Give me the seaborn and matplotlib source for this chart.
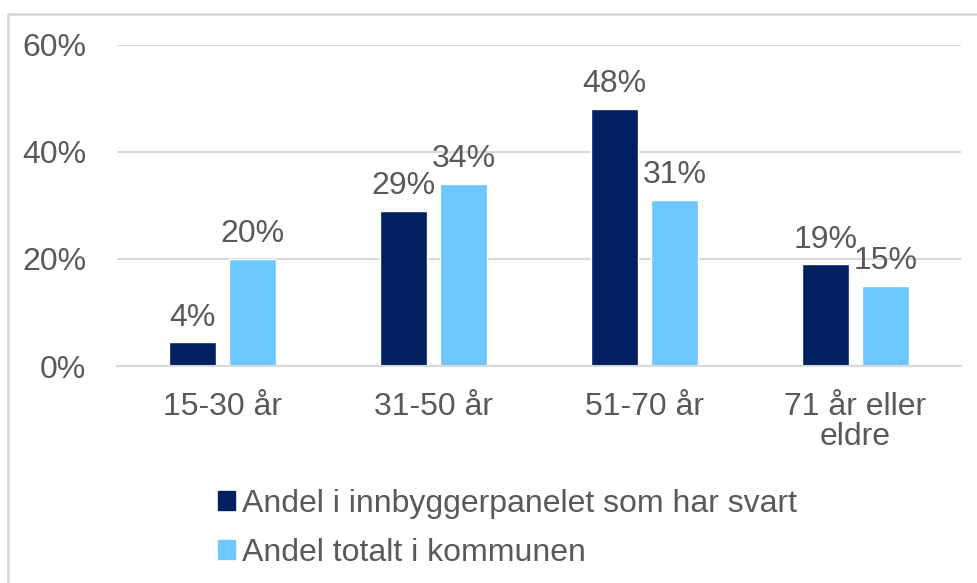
import matplotlib.pyplot as plt
import matplotlib.patches as mpatches
import pandas as pd
import seaborn as sns

# Data
categories = ["15-30 år", "31-50 år", "51-70 år", "71 år eller\neldre"]
series_names = ["Andel i innbyggerpanelet som har svart", "Andel totalt i kommunen"]
panel_share = [4.4, 29, 48, 19]
municipality_share = [20, 34, 31, 15]
y_ticks = [0, 20, 40, 60]

colors = ["#002060", "#6DC8FF"]
text_color = "#595959"
grid_color = "#D9D9D9"

df = pd.DataFrame({
    "Alder": categories * 2,
    "Andel": panel_share + municipality_share,
    "Serie": [series_names[0]] * 4 + [series_names[1]] * 4,
})

sns.set_style("white")
plt.rcParams["font.family"] = ["Liberation Sans", "DejaVu Sans"]
fs = 23

fig = plt.figure(figsize=(9.78, 5.83), dpi=100)
ax = fig.add_axes([117 / 978, 1 - 366 / 583, (961 - 117) / 978, (366 - 45) / 583])

sns.barplot(data=df, x="Alder", y="Andel", hue="Serie", palette=colors,
            width=0.569, gap=0.217, saturation=1, ax=ax, legend=False)

for container in ax.containers:
    ax.bar_label(container, labels=[f"{v:.0f}%" for v in container.datavalues],
                 padding=7, fontsize=fs, color=text_color)

ax.set_xlim(-0.5, 3.5)
ax.set_ylim(0, 60)
ax.set_yticks(y_ticks)
ax.set_yticklabels([f"{t}%" for t in y_ticks])
ax.yaxis.grid(True, color=grid_color, linewidth=1.5)
ax.set_axisbelow(True)
ax.set_xlabel("")
ax.set_ylabel("")
for side in ["top", "right", "left"]:
    ax.spines[side].set_visible(False)
ax.spines["bottom"].set_color(grid_color)
ax.spines["bottom"].set_linewidth(1.5)
ax.tick_params(axis="x", length=0, pad=19, labelsize=fs, labelcolor=text_color)
ax.tick_params(axis="y", length=0, pad=22, labelsize=fs, labelcolor=text_color)
for lbl in ax.get_xticklabels():
    lbl.set_linespacing(1.0)

# Legend below the plot, stacked vertically
handles = [mpatches.Patch(color=c, label=n) for c, n in zip(colors, series_names)]
fig.legend(handles=handles, loc="upper left", bbox_to_anchor=(189 / 978, 1 - 460 / 583),
           frameon=False, fontsize=fs, labelcolor=text_color,
           handlelength=0.55, handleheight=0.55, handletextpad=0.2, labelspacing=0.6)

# Light border around the chart area
fig.patches.append(mpatches.Rectangle((8 / 978, -0.1), 1.2, 1 - 14 / 583 + 0.1,
                                      transform=fig.transFigure, fill=False,
                                      edgecolor=grid_color, linewidth=2))

fig.savefig("out.png", dpi=100)
